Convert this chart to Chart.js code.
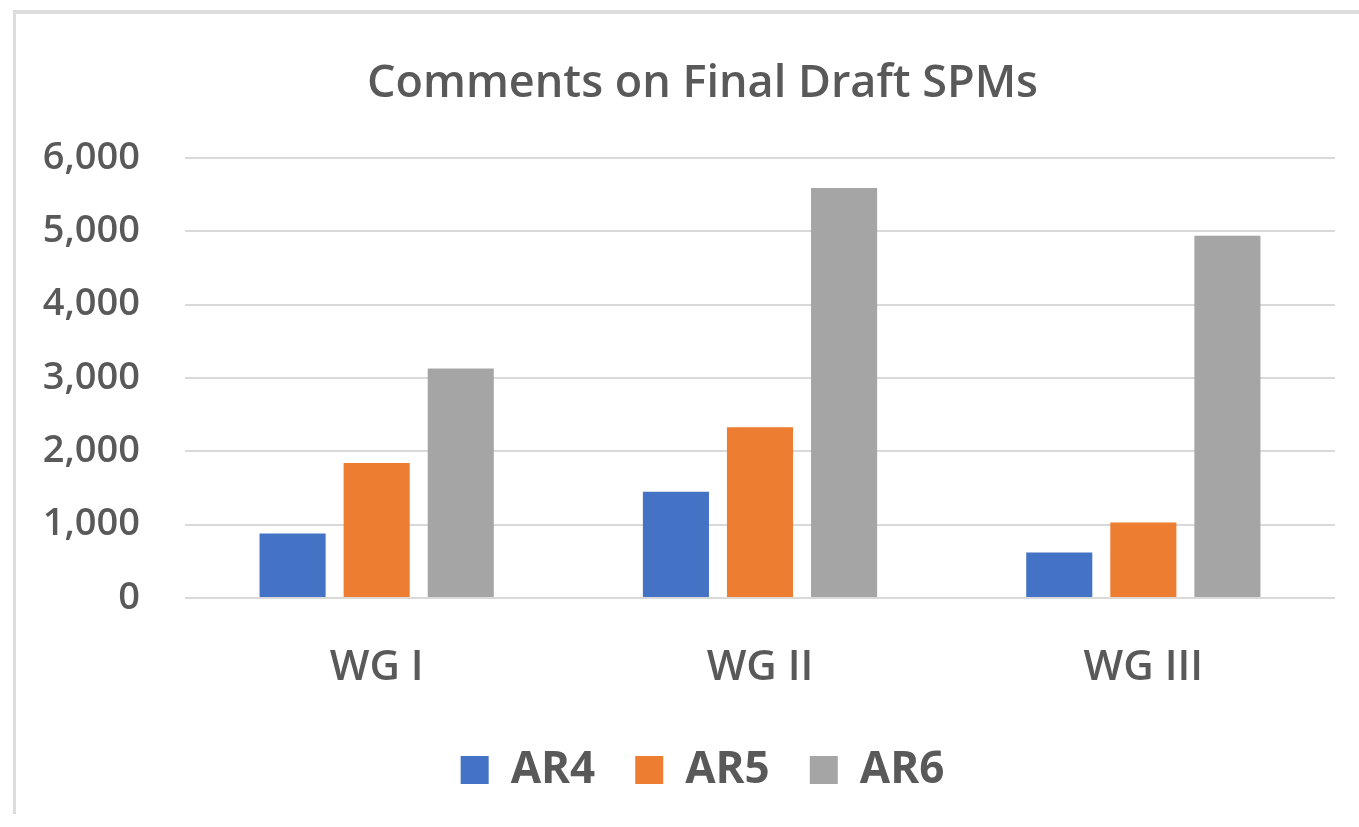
<!DOCTYPE html>
<html>
<head>
<meta charset="utf-8">
<script src="https://cdn.jsdelivr.net/npm/chart.js@4.4.0/dist/chart.umd.min.js"></script>
<style>
    body{
        margin:0;
        background:#ffffff;
        overflow:hidden;
    }
    #frame{
        position:absolute;
        left:13px;
        top:10px;
        width:1400px;
        height:800px;
        border-top:4px solid #dcdcdc;
        border-left:3px solid #dcdcdc;
    }
    #chart{
        position:absolute;
        left:0;
        top:0;
    }
</style>
</head>
<body>

<div id="frame"></div>
<canvas id="chart" width="1359" height="827"></canvas>

<script>

// DATA

const groups = ["WG I", "WG II", "WG III"];

const ar4 = [880, 1450, 620];
const ar5 = [1840, 2330, 1030];
const ar6 = [3130, 5590, 4940];

const yTicks = [0, 1000, 2000, 3000, 4000, 5000, 6000];

const textColor = "#595959";

// y labels sit left of the layout padding, so widen the label clip area
const widenYAxis = {
    id:"widenYAxis",
    afterLayout(chart){
        chart.scales.y.left = 0;
    }
};

// CHART

new Chart(document.getElementById("chart"),{

    type:"bar",

    data:{

        labels:groups,

        datasets:[
            {
                label:"AR4",
                data:ar4,
                backgroundColor:"#4472c4"
            },
            {
                label:"AR5",
                data:ar5,
                backgroundColor:"#ed7d31"
            },
            {
                label:"AR6",
                data:ar6,
                backgroundColor:"#a5a5a5"
            }
        ]
    },

    plugins:[widenYAxis],

    options:{
        responsive:false,
        animation:false,
        devicePixelRatio:1,

        categoryPercentage:0.658,
        barPercentage:0.786,

        // left padding shifts title + legend centre to the right like the original
        layout:{
            padding:{left:70, right:24, top:0, bottom:25}
        },

        plugins:{

            title:{
                display:true,
                text:"Comments on Final Draft SPMs",
                color:textColor,
                font:{family:"Open Sans", size:45, weight:"600"},
                padding:{top:57, bottom:47}
            },

            legend:{
                position:"bottom",
                labels:{
                    color:textColor,
                    font:{family:"Open Sans", size:44, weight:"bold"},
                    boxWidth:28,
                    boxHeight:28,
                    padding:40
                }
            },

            tooltip:{enabled:false}
        },

        scales:{

            x:{
                grid:{display:false},
                border:{display:false},
                ticks:{
                    color:textColor,
                    font:{family:"Open Sans", size:42, weight:"600"},
                    padding:37
                },
                afterFit(scale){
                    scale.height = 110;
                }
            },

            y:{
                min:0,
                max:6000,
                border:{display:false},
                grid:{
                    color:"#d9d9d9",
                    lineWidth:2,
                    drawTicks:false
                },
                afterBuildTicks(scale){
                    scale.ticks = yTicks.map(v => ({value:v}));
                },
                ticks:{
                    color:textColor,
                    font:{family:"Open Sans", size:38, weight:"600"},
                    padding:45,
                    callback:v => v.toLocaleString("en-US")
                },
                afterFit(scale){
                    scale.width = 115;
                }
            }
        }
    }
});

</script>
</body>
</html>
